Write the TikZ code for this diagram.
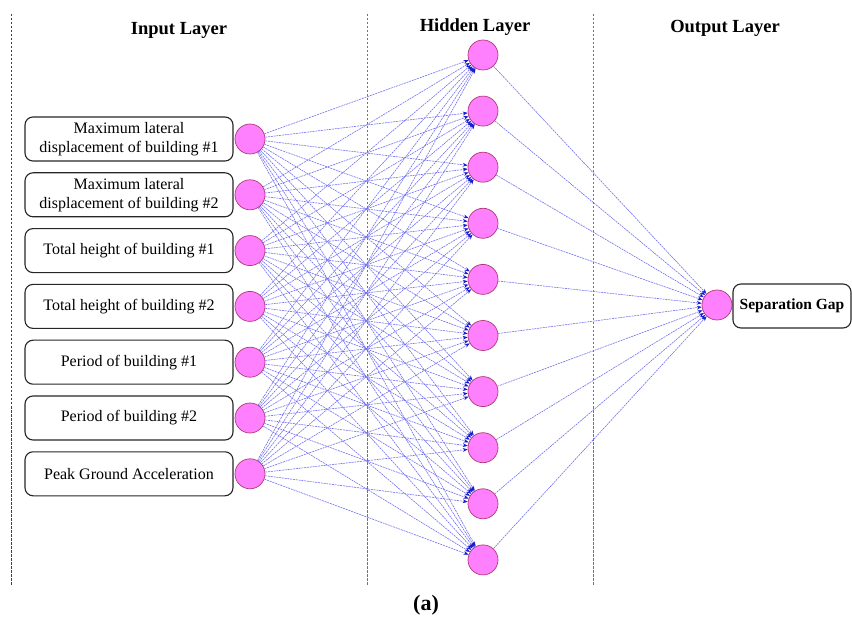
\documentclass[tikz,border=0pt]{standalone}
\usepackage{fontspec}
\setmainfont{Liberation Serif}
\usetikzlibrary{arrows.meta}
\definecolor{nodefill}{HTML}{FF80FF}
\definecolor{nodeedge}{HTML}{B03A78}
\definecolor{linkblue}{HTML}{7070F0}
\definecolor{tipblue}{HTML}{1A1AD0}
\tikzset{
  neuron/.style={circle, fill=nodefill, draw=nodeedge, line width=0.7pt, minimum size=30pt, inner sep=0pt},
  inbox/.style={draw=black!85, line width=1.1pt, rounded corners=8pt, minimum width=208pt, minimum height=44pt, align=center, font=\fontsize{16}{19}\selectfont, inner sep=0pt},
  outbox/.style={draw=black!85, line width=1.1pt, rounded corners=8pt, minimum width=118pt, minimum height=44pt, align=center, font=\fontsize{15.5}{18}\selectfont\bfseries, inner sep=0pt},
  link/.style={draw=linkblue, line width=0.6pt, dash pattern=on 2pt off 0.8pt, -{Stealth[length=5pt,width=3.8pt,color=tipblue]}},
  sep/.style={draw=black!55, line width=0.8pt, dash pattern=on 2.5pt off 1.5pt},
  header/.style={font=\fontsize{18.5}{22}\selectfont\bfseries}
}
\begin{document}
\begin{tikzpicture}[x=1pt,y=-1pt]
\useasboundingbox (0,0) rectangle (852,620);
% separators
\coordinate (s1a) at (11,14); \coordinate (s1b) at (11,586);
\coordinate (s2a) at (367,14); \coordinate (s2b) at (367,586);
\coordinate (s3a) at (593,14); \coordinate (s3b) at (593,586);
\draw[sep, draw=black!75] (s1a) -- (s1b);
\draw[sep] (s2a) -- (s2b);
\draw[sep] (s3a) -- (s3b);
% headers
\node[header] (hin) at (179,30) {Input Layer};
\node[header] (hhid) at (475,27) {Hidden Layer};
\node[header] (hout) at (725,28) {Output Layer};
% input boxes and neurons
\foreach \i/\t in {1/{Maximum lateral\\displacement of building \#1},
                   2/{Maximum lateral\\displacement of building \#2},
                   3/{Total height of building \#1},
                   4/{Total height of building \#2},
                   5/{Period of building \#1},
                   6/{Period of building \#2},
                   7/{Peak Ground Acceleration}} {
  \node[inbox] (b\i) at (129, {139+55.8*(\i-1)}) {\t};
  \node[neuron] (i\i) at (250, {139+55.8*(\i-1)}) {};
}
% hidden neurons
\foreach \j in {1,...,10} {
  \node[neuron] (h\j) at (483, {55+56.1*(\j-1)}) {};
}
% output
\node[neuron] (o1) at (717,305) {};
\node[outbox] (ob) at (792,306) {Separation Gap};
% links
\foreach \i in {1,...,7} {
  \foreach \j in {1,...,10} {
    \draw[link] (i\i) -- (h\j);
  }
}
\foreach \j in {1,...,10} {
  \draw[link] (h\j) -- (o1);
}
% caption
\node[font=\fontsize{22}{24}\selectfont\bfseries] (cap) at (426,605) {(a)};
\end{tikzpicture}
\end{document}
